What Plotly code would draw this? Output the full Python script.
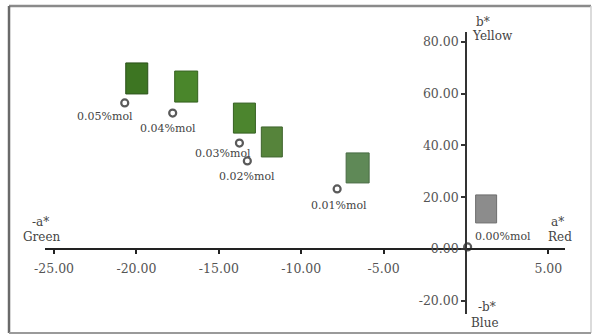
import plotly.graph_objects as go

# CIE L*a*b* chromaticity of the samples
labels = ["0.05%mol", "0.04%mol", "0.03%mol", "0.02%mol", "0.01%mol", "0.00%mol"]
a_star = [-20.71, -17.80, -13.75, -13.27, -7.82, 0.10]
b_star = [56.4, 52.5, 40.9, 34.0, 23.2, 0.8]
swatch_colors = ["#3d7522", "#4a862b", "#4c852e", "#56843b", "#5f8957", "#8c8c8c"]
swatch_edges = ["#2a5018", "#33601d", "#356022", "#3e632c", "#486a44", "#6e6e6e"]

x_ticks = [-25, -20, -15, -10, -5, 5]
y_ticks = [-20, 20, 40, 60, 80, 0]
x_ticktext = [f"{v:.2f}" for v in x_ticks]
y_ticktext = [f"{v:.2f}" for v in y_ticks]

# layout offsets (pixels) for the colour swatch and the text of each sample
swatch_px = [(1, 23, 9, 40), (2, 25, 11, 42), (-6, 16, 10, 40),
             (14, 35, 4, 34), (9, 32, 6, 36), (8, 29, 24, 52)]
label_px = [(-20, -14), (-5, -15), (-16, -10), (0, -16), (2, -17), (5, 10)]

X_RANGE = [-25.55, 6.01]
Y_RANGE = [-25.1, 83.8]

serif = "DejaVu Serif"
tick_font = dict(family=serif, size=12.5, color="#555555")

fig = go.Figure()
fig.add_trace(go.Scatter(
    x=a_star, y=b_star, mode="markers",
    marker=dict(symbol="circle-open", size=7, color="#5a5a5a",
                line=dict(width=2.2, color="#5a5a5a")),
    showlegend=False, hoverinfo="text", text=labels, cliponaxis=False,
))

shapes = []
for a, b, fc, ec, (x0, x1, y0, y1) in zip(a_star, b_star, swatch_colors, swatch_edges, swatch_px):
    shapes.append(dict(type="rect", xref="x", yref="y", xsizemode="pixel", ysizemode="pixel",
                       xanchor=a, yanchor=b, x0=x0, x1=x1, y0=y0, y1=y1,
                       fillcolor=fc, line=dict(color=ec, width=1), layer="above"))

# outer frame
frame = [
    ((-0.0692, 1.092), (1.05, 1.092), "#8a8a8a", 2.5),
    ((-0.0692, -0.0674), (-0.0692, 1.092), "#6a6a6a", 2.5),
    ((1.05, -0.0674), (1.05, 1.092), "#cfcfcf", 1.5),
    ((-0.0692, -0.0674), (1.05, -0.0674), "#9a9a9a", 2),
]
for (x0, y0), (x1, y1), c, w in frame:
    shapes.append(dict(type="line", xref="paper", yref="paper", x0=x0, y0=y0, x1=x1, y1=y1,
                       line=dict(color=c, width=w)))

annotations = []
for a, b, t, (dx, dy), i in zip(a_star, b_star, labels, label_px, range(len(labels))):
    annotations.append(dict(x=a, y=b, xref="x", yref="y", text=t, showarrow=False,
                            xshift=dx, yshift=dy, xanchor="left" if i == len(labels) - 1 else "center",
                            yanchor="middle",
                            font=dict(family=serif, size=11, color="#444444")))

# axis direction captions, placed in paper coordinates
axis_font = dict(family=serif, size=12, color="#444444")
for txt, x, y in [("-a*", -0.0096, 0.326), ("Green", -0.0058, 0.273),
                  ("a*", 0.985, 0.326), ("Red", 0.99, 0.273),
                  ("b*", 0.842, 1.035), ("Yellow", 0.8615, 0.986),
                  ("-b*", 0.85, 0.0248), ("Blue", 0.846, -0.032)]:
    annotations.append(dict(x=x, y=y, xref="paper", yref="paper", text=txt, showarrow=False,
                            xanchor="center", yanchor="middle", font=axis_font))

x_zero = (0 - X_RANGE[0]) / (X_RANGE[1] - X_RANGE[0])
y_zero = (0 - Y_RANGE[0]) / (Y_RANGE[1] - Y_RANGE[0])

fig.update_layout(
    width=594, height=336,
    margin=dict(l=45, r=29, t=32, b=22),
    paper_bgcolor="white", plot_bgcolor="white",
    xaxis=dict(range=X_RANGE, anchor="free", position=y_zero, showgrid=False, zeroline=False,
               showline=True, linecolor="#222222", linewidth=2,
               ticks="outside", ticklen=4, tickcolor="#222222", tickwidth=1.5,
               tickvals=x_ticks, ticktext=x_ticktext, tickfont=tick_font,
               ticklabelstandoff=4),
    yaxis=dict(range=Y_RANGE, anchor="free", position=x_zero, showgrid=False, zeroline=False,
               showline=True, linecolor="#333333", linewidth=1.6,
               ticks="outside", ticklen=4, tickcolor="#333333", tickwidth=1.5,
               tickvals=y_ticks, ticktext=y_ticktext, tickfont=tick_font),
    shapes=shapes, annotations=annotations,
)

fig.write_html("out.html")
